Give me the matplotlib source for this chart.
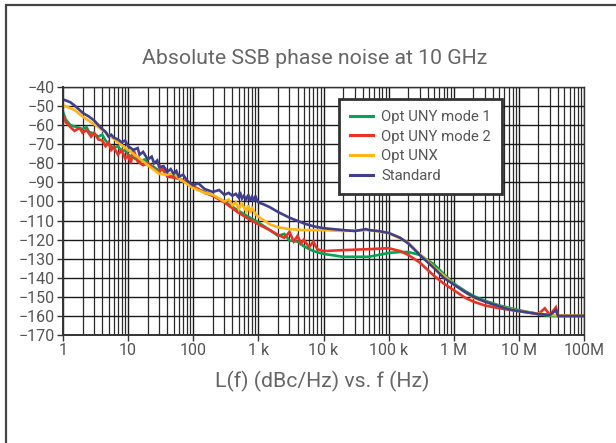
import matplotlib
matplotlib.use("Agg")
import matplotlib.pyplot as plt
from matplotlib.patches import Rectangle
from matplotlib.ticker import FixedLocator, LogLocator, NullFormatter

# ---- data (offset frequency in Hz, L(f) in dBc/Hz) ----
std_f = [1, 1.3, 1.6, 2, 2.5, 3, 3.5, 4, 4.5, 5, 5.5, 6, 7, 8, 9, 10, 12, 14, 15, 17, 20,
         23, 25, 28, 30, 35, 40, 45, 50, 55, 60, 70, 80, 100, 120, 150, 200, 250, 300, 350,
         400, 450, 500, 520, 560, 600, 650, 700, 750, 800, 850, 900, 950, 1000, 1200, 1500,
         2000, 3000, 5000, 7000, 10e3, 20e3, 30e3, 45e3, 50e3, 70e3, 100e3, 150e3, 200e3,
         300e3, 500e3, 700e3, 1e6, 1.5e6, 2e6, 3e6, 5e6, 7e6, 10e6, 20e6, 30e6, 37e6, 40e6,
         50e6, 100e6]
std_db = [-46.5, -48, -50.5, -53.5, -55.5, -57.5, -60, -62, -63.5, -66, -65, -66.5, -67.5,
          -69, -68, -71, -73, -72, -75.5, -74, -78, -76.5, -80, -78.5, -82, -81.5, -84.5, -83,
          -85.5, -84, -87, -86, -89, -91.5, -90.5, -93.5, -95, -94, -96.5, -95.5, -97, -96,
          -98, -95, -98.5, -97, -99, -96.5, -99.5, -97.5, -100, -97, -99.5, -100.5, -101.5,
          -103, -105.5, -108.5, -111.5, -113, -114, -115, -115.5, -114.5, -115, -115.5, -116.5,
          -119, -122, -128, -135, -140, -143.5, -147.5, -150, -152.5, -155, -156.5, -157.5,
          -159, -159.5, -157, -160, -160, -160]

mode1_f = [1, 1.1, 1.3, 1.6, 2, 2.3, 2.5, 3, 3.5, 4, 4.5, 5, 6, 7, 8, 9, 10, 12, 15, 18, 20,
           25, 30, 35, 40, 50, 70, 100, 150, 200, 300, 500, 700, 1000, 1500, 2000, 2500,
           3000, 4000, 5000, 7000, 10e3, 20e3, 50e3, 100e3, 150e3, 200e3, 300e3, 500e3,
           700e3, 1e6, 1.5e6, 2e6, 3e6, 5e6, 10e6, 20e6, 30e6, 100e6]
mode1_db = [-53, -57, -60, -61, -62, -61, -63.5, -64.5, -66, -65, -68, -70, -72, -71, -74,
            -73, -75.5, -77, -79, -78, -80, -82, -84, -83, -86.5, -87, -89, -92.5, -95, -97,
            -100, -105, -108, -111, -115, -118, -117, -120.5, -121, -123.5, -126, -127.5, -129,
            -129, -127, -126.5, -126.5, -128, -133, -138, -143, -147, -149.5, -152, -154.5,
            -157, -159, -160, -160]

mode2_f = [1, 1.1, 1.3, 1.5, 1.8, 2, 2.3, 2.7, 3, 3.5, 4, 4.5, 5, 5.5, 6, 7, 8, 9, 10, 11,
           12, 14, 17, 20, 25, 30, 32, 40, 50, 60, 80, 100, 150, 200, 300, 500, 700, 1000,
           1500, 2000, 2500, 3000, 3500, 4000, 4500, 5000, 6000, 7000, 8000, 10e3, 20e3, 50e3,
           100e3, 150e3, 200e3, 300e3, 500e3, 700e3, 1e6, 1.5e6, 2e6, 3e6, 5e6, 10e6, 20e6,
           25e6, 30e6, 37e6, 40e6, 100e6]
mode2_db = [-55, -58.5, -61, -63, -61.5, -64, -62.5, -66, -64, -67.5, -68, -71, -69, -73,
            -71.5, -75.5, -73, -77.5, -76, -80, -72.5, -79, -81, -80, -83, -85, -82, -87, -87.5,
            -88, -90, -92, -95.5, -97, -100.5, -106, -109, -112, -115, -117.5, -119, -116,
            -121, -118, -122, -120, -124, -121, -125, -126, -125.5, -125, -124.5, -126, -128,
            -132, -139, -143, -146.5, -150.5, -152.5, -154.5, -156, -157.5, -159, -156, -159.5,
            -155.5, -160, -160]

unx_f = [1, 1.5, 2, 3, 4, 5, 7, 10, 15, 20, 30, 40, 50, 60, 70, 100, 150, 200, 300, 350, 400,
         450, 500, 550, 600, 650, 700, 750, 800, 900, 1000, 1500, 2000, 3000, 5000, 10e3,
         20e3, 50e3, 100e3, 200e3, 300e3, 500e3, 1e6, 2e6, 5e6, 10e6, 30e6, 100e6]
unx_db = [-49.5, -52, -55.5, -59.5, -62.5, -65, -69, -73, -77.5, -81, -85.5, -86, -85, -88,
          -89.5, -93, -95.5, -96.5, -100, -99, -102, -100.5, -104, -101, -103, -105, -102,
          -106, -103.5, -106.5, -108, -112, -113.5, -114.5, -115, -115, -115.5, -115, -116.5,
          -121.5, -127.5, -134.5, -143.5, -150.5, -155, -157.5, -159.5, -160]

series = [
    ("Opt UNY mode 1", mode1_f, mode1_db, "#00a651"),
    ("Opt UNY mode 2", mode2_f, mode2_db, "#ee3124"),
    ("Opt UNX", unx_f, unx_db, "#ffb612"),
    ("Standard", std_f, std_db, "#3f3f8c"),
]

x_ticks = [1, 10, 100, 1e3, 1e4, 1e5, 1e6, 1e7, 1e8]
x_labels = ["1", "10", "100", "1 k", "10 k", "100 k", "1 M", "10 M", "100M"]
y_ticks = list(range(-40, -171, -10))

txt = "#555555"
plt.rcParams["font.family"] = ["Roboto", "DejaVu Sans"]

fig = plt.figure(figsize=(6.16, 4.43), dpi=100)
ax = fig.add_axes([63 / 616, 1 - 335 / 443, 521 / 616, 248 / 443])

# outer frame of the figure (top and left edges visible)
fig.patches.append(Rectangle((6 / 616, -0.1), 1.2, 1.1 - 5 / 443, transform=fig.transFigure,
                             fill=False, edgecolor="#444444", linewidth=1.6))

# draw the lines: Standard last so it sits on top
for name, f, db, c in series:
    ax.plot(f, db, color=c, lw=1.9, label=name, solid_joinstyle="miter")

ax.set_xscale("log")
ax.set_xlim(1, 1e8)
ax.set_ylim(-170, -40)
ax.xaxis.set_major_locator(FixedLocator(x_ticks))
ax.set_xticklabels(x_labels)
ax.xaxis.set_minor_locator(LogLocator(base=10, subs=range(2, 10), numticks=100))
ax.xaxis.set_minor_formatter(NullFormatter())
ax.set_yticks(y_ticks)

ax.grid(True, which="major", color="#1a1a1a", lw=1.0)
ax.grid(True, which="minor", axis="x", color="#2a2a2a", lw=0.9)
ax.set_axisbelow(True)

ax.tick_params(axis="both", which="major", length=4, width=1, color="#333333",
               labelsize=11.5, labelcolor=txt, pad=2)
ax.tick_params(axis="x", which="minor", length=0)
for s in ax.spines.values():
    s.set_color("#333333")
    s.set_linewidth(1.0)
ax.spines["left"].set_linewidth(1.4)
ax.spines["bottom"].set_linewidth(1.4)

fig.text(315 / 616, 1 - 58 / 443, "Absolute SSB phase noise at 10 GHz", ha="center",
         va="center", fontsize=15.3, color="#666666")
fig.text(322 / 616, 1 - 381 / 443, "L(f) (dBc/Hz) vs. f (Hz)", ha="center", va="center",
         fontsize=15.3, color="#666666")

leg = ax.legend(loc="upper left", bbox_to_anchor=(0.530, 0.952), fontsize=10.7,
                frameon=True, fancybox=False, framealpha=1, edgecolor="#333333",
                handlelength=1.5, handletextpad=0.6, labelspacing=0.38, borderpad=0.75,
                borderaxespad=0)
leg.get_frame().set_linewidth(2)
for t in leg.get_texts():
    t.set_color(txt)
for h in leg.get_lines():
    h.set_linewidth(2.2)

fig.savefig("out.png", dpi=100)
